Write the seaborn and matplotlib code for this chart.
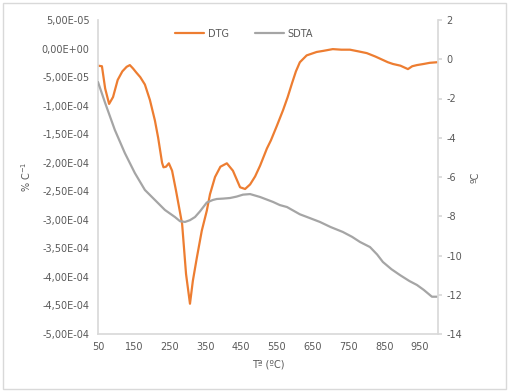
import numpy as np
import pandas as pd
import matplotlib
matplotlib.use("Agg")
import matplotlib.pyplot as plt
import seaborn as sns
from matplotlib.patches import Rectangle
from matplotlib.ticker import FixedLocator, FixedFormatter

# DTG (left axis, values x 1e-4 %/C)
dtg_temp = [50, 61, 70, 81, 92, 105, 118, 130, 139, 148, 157, 168, 181, 195, 209, 218,
            229, 233, 240, 248, 257, 268, 285, 296, 307, 315, 326, 340, 354, 363, 377,
            392, 410, 427, 447, 461, 475, 489, 503, 522, 533, 550, 567, 580, 592, 603,
            614, 633, 661, 680, 706, 730, 754, 778, 801, 825, 846, 860, 874, 895, 916,
            928, 941, 960, 977, 997]
dtg_vals = [-0.30, -0.31, -0.70, -0.97, -0.85, -0.55, -0.40, -0.32, -0.29, -0.35, -0.42,
            -0.50, -0.63, -0.90, -1.26, -1.56, -2.00, -2.08, -2.07, -2.01, -2.14, -2.49,
            -3.07, -3.95, -4.47, -4.07, -3.67, -3.19, -2.84, -2.55, -2.25, -2.07, -2.01,
            -2.14, -2.43, -2.46, -2.38, -2.24, -2.05, -1.75, -1.61, -1.35, -1.08, -0.85,
            -0.61, -0.40, -0.24, -0.12, -0.06, -0.04, -0.01, -0.02, -0.02, -0.05, -0.08,
            -0.14, -0.20, -0.24, -0.27, -0.30, -0.36, -0.31, -0.29, -0.27, -0.25, -0.24]

# SDTA (right axis, ºC)
sdta_temp = [50, 70, 97, 125, 153, 181, 209, 237, 265, 279, 293, 307, 321, 335, 354, 371,
             382, 400, 419, 437, 455, 475, 503, 539, 558, 578, 614, 640, 670, 700, 734,
             760, 782, 810, 830, 846, 870, 894, 920, 941, 960, 983, 997]
sdta_vals = [-1.16, -2.23, -3.6, -4.78, -5.8, -6.66, -7.17, -7.68, -8.04, -8.25, -8.29,
             -8.2, -8.04, -7.75, -7.3, -7.17, -7.12, -7.1, -7.07, -7.0, -6.9, -6.87,
             -7.02, -7.27, -7.43, -7.53, -7.9, -8.08, -8.29, -8.55, -8.8, -9.05, -9.31,
             -9.57, -9.95, -10.33, -10.7, -11.0, -11.3, -11.5, -11.75, -12.1, -12.1]

x_ticks = [50, 150, 250, 350, 450, 550, 650, 750, 850, 950]
left_ticks = [5e-5, 0, -5e-5, -1e-4, -1.5e-4, -2e-4, -2.5e-4, -3e-4, -3.5e-4, -4e-4, -4.5e-4, -5e-4]
left_labels = ["5,00E-05", "0,00E+00", "-5,00E-05", "-1,00E-04", "-1,50E-04", "-2,00E-04",
               "-2,50E-04", "-3,00E-04", "-3,50E-04", "-4,00E-04", "-4,50E-04", "-5,00E-04"]
right_ticks = [2, 0, -2, -4, -6, -8, -10, -12, -14]

dtg = pd.DataFrame({"T": dtg_temp, "DTG": np.array(dtg_vals) * 1e-4})
sdta = pd.DataFrame({"T": sdta_temp, "SDTA": sdta_vals})

sns.set_theme(style="white")
plt.rcParams['font.family'] = ['DejaVu Sans']
plt.rcParams['axes.unicode_minus'] = False

orange = "#ED7D31"
grey = "#A5A5A5"
txt = "#595959"
spine = "#D9D9D9"
fs = 7

fig = plt.figure(figsize=(5.09, 3.92), dpi=100)
ax = fig.add_axes([98 / 509, 1 - 334 / 392, 340 / 509, 314 / 392])
ax2 = ax.twinx()

sns.lineplot(data=dtg, x="T", y="DTG", ax=ax, color=orange, linewidth=1.6, sort=False,
             label="DTG", legend=False)
sns.lineplot(data=sdta, x="T", y="SDTA", ax=ax2, color=grey, linewidth=1.6, sort=False,
             label="SDTA", legend=False)

ax.set_xlim(50, 1000)
ax.set_ylim(-5e-4, 5e-5)
ax2.set_ylim(-14, 2)
ax.xaxis.set_major_locator(FixedLocator(x_ticks))
ax.yaxis.set_major_locator(FixedLocator(left_ticks))
ax.yaxis.set_major_formatter(FixedFormatter(left_labels))
ax2.yaxis.set_major_locator(FixedLocator(right_ticks))

for a in (ax, ax2):
    for s in a.spines.values():
        s.set_visible(False)
    a.tick_params(labelsize=fs, colors=txt)
ax.spines["left"].set_visible(True)
ax.spines["left"].set_color(spine)
ax.spines["bottom"].set_visible(True)
ax.spines["bottom"].set_color(spine)
ax2.spines["right"].set_visible(True)
ax2.spines["right"].set_color(spine)
ax.tick_params(axis="both", length=0, pad=6)
ax2.tick_params(axis="y", length=3, color=spine, pad=3)

ax.set_xlabel("Tª (ºC)", fontsize=fs, color=txt, labelpad=5)
ax.set_ylabel("% C$^{-1}$", fontsize=fs, color=txt, labelpad=6)
ax2.set_ylabel("ºC", fontsize=fs, color=txt, labelpad=6)

h1, l1 = ax.get_legend_handles_labels()
h2, l2 = ax2.get_legend_handles_labels()
ax.legend(h1 + h2, l1 + l2, loc="upper center", bbox_to_anchor=(0.43, 1.0), ncol=2,
          frameon=False, fontsize=fs, labelcolor=txt, handlelength=3.0,
          columnspacing=2.6, handletextpad=0.4)

fig.patches.append(Rectangle((3 / 509, 3 / 392), 503 / 509, 386 / 392,
                             transform=fig.transFigure, fill=False,
                             edgecolor="#D9D9D9", linewidth=1))

fig.savefig("out.png", dpi=100)
